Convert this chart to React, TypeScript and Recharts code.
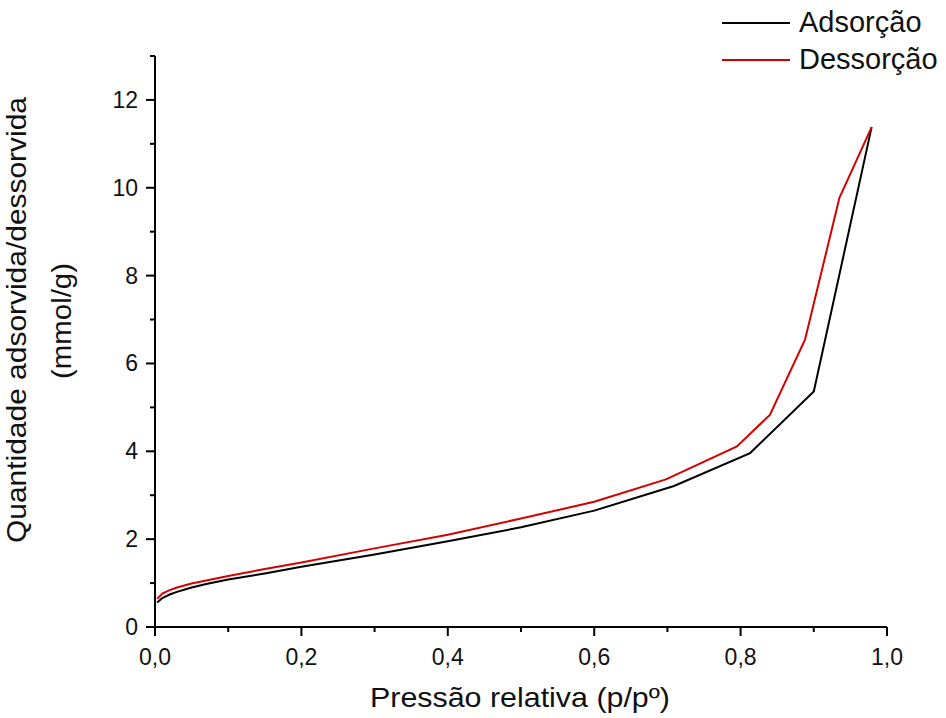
import React from "react";
import { LineChart, Line, XAxis, YAxis } from "recharts";

// isotherm data
const adsX = [0.003, 0.01, 0.02, 0.03, 0.05, 0.07, 0.1, 0.15, 0.2, 0.3, 0.4, 0.5, 0.6, 0.709, 0.813, 0.9, 0.979];
const adsY = [0.56, 0.66, 0.74, 0.8, 0.9, 0.98, 1.08, 1.22, 1.37, 1.65, 1.95, 2.27, 2.65, 3.21, 3.96, 5.36, 11.38];

const desX = [0.979, 0.935, 0.888, 0.84, 0.795, 0.698, 0.6, 0.5, 0.4, 0.3, 0.2, 0.15, 0.1, 0.07, 0.05, 0.03, 0.02, 0.01, 0.003];
const desY = [11.38, 9.77, 6.54, 4.83, 4.11, 3.36, 2.85, 2.47, 2.1, 1.79, 1.47, 1.32, 1.16, 1.06, 0.99, 0.9, 0.84, 0.76, 0.64];

const xTicks = [0, 0.1, 0.2, 0.3, 0.4, 0.5, 0.6, 0.7, 0.8, 0.9, 1.0];
const yTicks = [0, 1, 2, 3, 4, 5, 6, 7, 8, 9, 10, 11, 12, 13];

const series = [
  { name: "Adsorção", color: "#000", data: adsX.map((x, i) => ({ x, y: adsY[i] })) },
  { name: "Dessorção", color: "#d40000", data: desX.map((x, i) => ({ x, y: desY[i] })) },
];

const font = "'Liberation Sans', Arial, sans-serif";

const XTick = ({ x, y, payload }: any) => {
  const major = Math.round(payload.value * 10) % 2 === 0;
  return (
    <g>
      <line x1={x} y1={y} x2={x} y2={y + (major ? 9 : 5)} stroke="#000" strokeWidth={2} />
      {major && (
        <text x={x} y={y + 38} textAnchor="middle" fontSize={23} fontFamily={font} fill="#111">
          {payload.value.toFixed(1).replace(".", ",")}
        </text>
      )}
    </g>
  );
};

const YTick = ({ x, y, payload }: any) => {
  const major = payload.value % 2 === 0;
  return (
    <g>
      <line x1={x} y1={y} x2={x - (major ? 9 : 5)} y2={y} stroke="#000" strokeWidth={2} />
      {major && (
        <text x={x - 17} y={y + 8} textAnchor="end" fontSize={23} fontFamily={font} fill="#111">
          {payload.value}
        </text>
      )}
    </g>
  );
};

const Titles = () => (
  <g fontFamily={font} fontSize={28} fill="#111">
    <text x={26} y={320} textAnchor="middle" transform="rotate(-90 26 320)" textLength={446} lengthAdjust="spacingAndGlyphs">
      Quantidade adsorvida/dessorvida
    </text>
    <text x={71} y={321} textAnchor="middle" transform="rotate(-90 71 321)" textLength={116} lengthAdjust="spacingAndGlyphs">
      (mmol/g)
    </text>
    <text x={520} y={707} textAnchor="middle" textLength={300} lengthAdjust="spacingAndGlyphs">
      Pressão relativa (p/pº)
    </text>
  </g>
);

export default function App() {
  return (
    <div style={{ position: "absolute", left: 0, top: 0, width: 946, height: 718, background: "#fff" }}>
      <LineChart width={946} height={718} margin={{ top: 56, right: 59, bottom: 31, left: 95 }}>
        <XAxis
          type="number"
          dataKey="x"
          domain={[0, 1]}
          ticks={xTicks}
          interval={0}
          height={60}
          tickSize={0}
          tickMargin={0}
          tickLine={false}
          tick={<XTick />}
          axisLine={{ stroke: "#000", strokeWidth: 2 }}
          allowDuplicatedCategory={false}
        />
        <YAxis
          type="number"
          dataKey="y"
          domain={[0, 13]}
          ticks={yTicks}
          interval={0}
          width={60}
          tickSize={0}
          tickMargin={0}
          tickLine={false}
          tick={<YTick />}
          axisLine={{ stroke: "#000", strokeWidth: 2 }}
          label={{ content: () => <Titles /> }}
        />
        {series.map((s) => (
          <Line
            key={s.name}
            data={s.data}
            dataKey="y"
            name={s.name}
            stroke={s.color}
            strokeWidth={2}
            dot={false}
            type="linear"
            isAnimationActive={false}
          />
        ))}
      </LineChart>
      <div style={{ position: "absolute", left: 722, top: 4, fontFamily: font, fontSize: 29, color: "#111" }}>
        {series.map((s) => (
          <div key={s.name} style={{ display: "flex", alignItems: "center", height: 37 }}>
            <span style={{ width: 68, height: 2, background: s.color, marginRight: 9 }} />
            <span>{s.name}</span>
          </div>
        ))}
      </div>
    </div>
  );
}
